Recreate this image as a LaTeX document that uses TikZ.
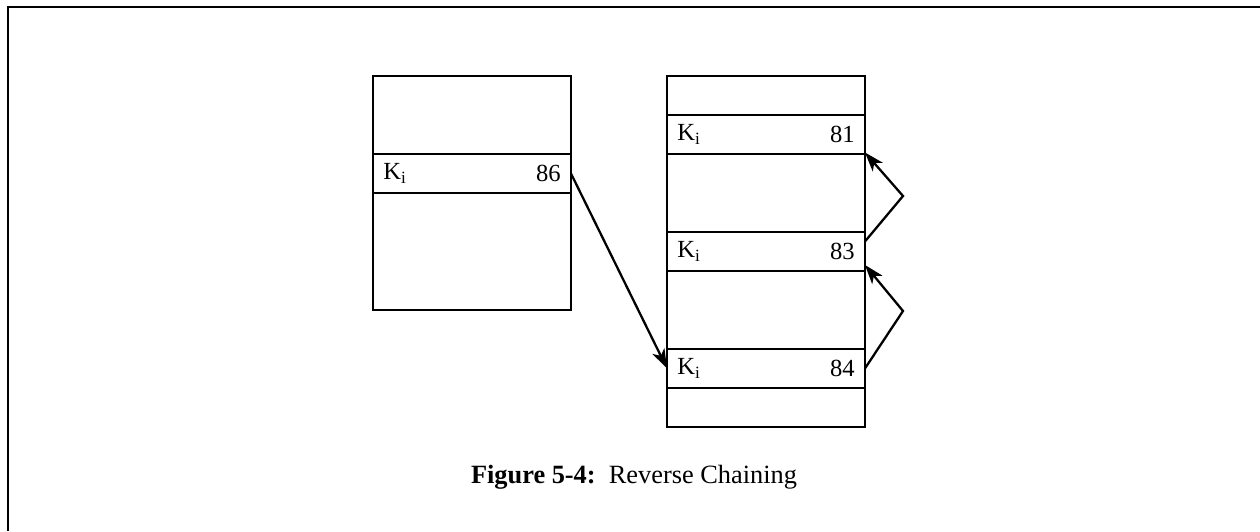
\documentclass[tikz,border=0pt]{standalone}
\usepackage{fontspec}
\setmainfont{Liberation Serif}
\usetikzlibrary{positioning,arrows.meta}

\tikzset{
  cell/.style={draw, line width=1.4pt, minimum width=3.96cm, inner sep=0pt, outer sep=0pt},
  slot/.style={cell, minimum height=#1*0.78cm},
  key/.style={anchor=west, inner sep=0pt, font=\fontsize{14}{16}\selectfont},
  ptr/.style={anchor=east, inner sep=0pt, font=\fontsize{14}{16}\selectfont},
  link/.style={line width=1.3pt, -{Stealth[length=11pt,width=7.5pt,inset=3pt]}}
}

\begin{document}
\begin{tikzpicture}[x=0.02cm,y=-0.02cm]
\useasboundingbox (0,0) rectangle (1260,531);

% page frame
\draw[line width=1.4pt] (8,531) -- (8,7) -- (1260,7);

% left bucket
\node[slot=2, anchor=north west] (l1) at (373,76) {};
\node[slot=1, below=0pt of l1] (r86) {};
\node[slot=3, below=0pt of r86] (l3) {};
\node[key] (k86) at ([xshift=0.2cm]r86.west) {K\textsubscript{i}};
\node[ptr] (n86) at ([xshift=-0.2cm]r86.east) {86};

% right bucket
\node[slot=1, anchor=north west] (b1) at (667,76) {};
\node[slot=1, below=0pt of b1] (r81) {};
\node[slot=2, below=0pt of r81] (b3) {};
\node[slot=1, below=0pt of b3] (r83) {};
\node[slot=2, below=0pt of r83] (b5) {};
\node[slot=1, below=0pt of b5] (r84) {};
\node[slot=1, below=0pt of r84] (b7) {};
\foreach \n in {81,83,84} {
  \node[key] (k\n) at ([xshift=0.2cm]r\n.west) {K\textsubscript{i}};
  \node[ptr] (n\n) at ([xshift=-0.2cm]r\n.east) {\n};
}

% chain pointers
\coordinate (p84) at (903,311);
\coordinate (p83) at (903,196);
\draw[link] (r86.east) -- (r84.west);
\draw[link] (r84.east) -- (p84) -- ([yshift=0.12cm]r83.south east);
\draw[link] ([yshift=0.2cm]r83.east) -- (p83) -- ([yshift=0.03cm]r81.south east);

\node[anchor=base, font=\fontsize{15}{18}\selectfont] (cap) at (634,483)
  {\textbf{Figure 5-4:}\ \ Reverse Chaining};
\end{tikzpicture}
\end{document}
